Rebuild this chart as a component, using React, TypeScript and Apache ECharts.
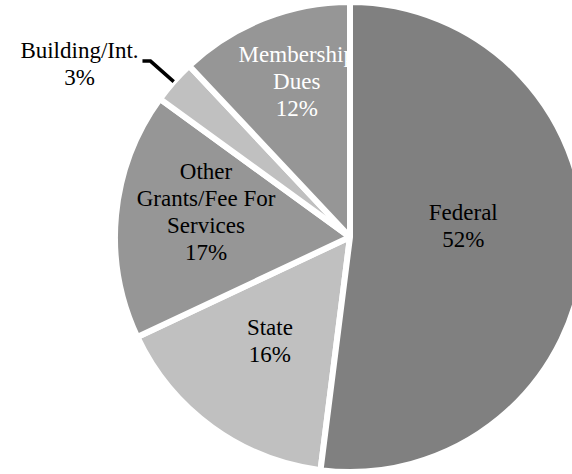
import React, { useEffect, useRef } from 'react';
import * as echarts from 'echarts';

const categories = ['Federal', 'State', 'Other\nGrants/Fee For\nServices', 'Building/Int.', 'Membership\nDues'];
const shares = [52, 16, 17, 3, 12];

const sliceColors = ['#808080', '#c0c0c0', '#969696', '#c0c0c0', '#969696'];
const labelColors = ['#000000', '#000000', '#000000', '#000000', '#ffffff'];
const labelShift = [[-4, -18], [-11, 9], [-27, -14], [0, 0], [-10, -46]];

export default function App() {
  const ref = useRef<HTMLDivElement>(null);
  useEffect(() => {
    document.body.style.margin = '0';
    const chart = echarts.init(ref.current!, null, { renderer: 'svg' });
    const font = "23px 'Liberation Serif'";
    const cx = 350;
    const cy = 237;
    const R = 235;
    const fedIdx = 0;
    const bldIdx = 3;
    const total = shares.reduce((a, b) => a + b, 0);
    let acc = 0;
    const mids = shares.map((v) => {
      const a0 = acc;
      acc += v;
      return ((a0 + v / 2) / total) * Math.PI * 2;
    });
    const pt = (r: number, ang: number) => [cx + r * Math.sin(ang), cy - r * Math.cos(ang)];

    const texts: any[] = categories.map((name, i) => {
      let x: number;
      let y: number;
      let z = 10;
      if (i === bldIdx) {
        const e = pt(R + 31, mids[i]);
        x = e[0] - 8 - 5 - 58;
        y = e[1] + 3;
      } else {
        const p = pt(R / 2, mids[i]);
        x = p[0] + labelShift[i][0];
        y = p[1] + labelShift[i][1];
        if (i !== fedIdx) z = 2.5;
      }
      return {
        type: 'text',
        x,
        y,
        z,
        silent: true,
        style: {
          text: `${name}\n${shares[i]}%`,
          font,
          fill: labelColors[i],
          align: 'center',
          verticalAlign: 'middle',
          lineHeight: 27,
        },
      };
    });
    const s0 = pt(R, mids[bldIdx]);
    const s1 = pt(R + 31, mids[bldIdx]);
    const leader = {
      type: 'polyline',
      z: 10,
      silent: true,
      shape: { points: [s0, s1, [s1[0] - 8, s1[1]]] },
      style: { stroke: '#000000', lineWidth: 3.5, fill: null },
    };

    const border = { borderColor: '#ffffff', borderWidth: 6 };
    const mainData = categories.map((name, i) => ({
      name,
      value: shares[i],
      itemStyle: { color: sliceColors[i], ...border },
    }));
    const overlayData = categories.map((name, i) => ({
      name,
      value: shares[i],
      itemStyle: i === fedIdx ? { color: sliceColors[i], ...border } : { color: 'rgba(0,0,0,0)', borderWidth: 0 },
    }));
    const base = {
      type: 'pie',
      center: [cx, cy],
      radius: R,
      startAngle: 90,
      clockwise: true,
      silent: true,
      label: { show: false },
      labelLine: { show: false },
    };
    chart.setOption({
      animation: false,
      backgroundColor: '#ffffff',
      series: [
        { ...base, z: 2, data: mainData },
        { ...base, z: 3, data: overlayData },
      ],
      graphic: [...texts, leader],
    });
    return () => chart.dispose();
  }, []);
  return <div ref={ref} style={{ width: 572, height: 474 }} />;
}
